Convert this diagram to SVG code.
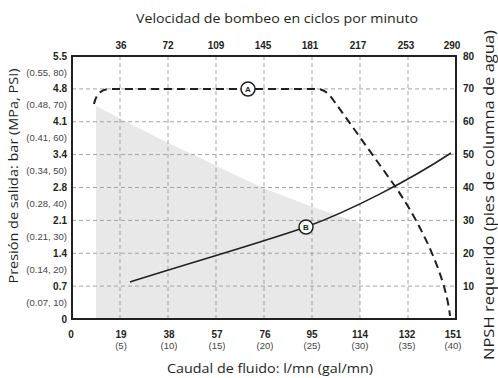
<svg xmlns="http://www.w3.org/2000/svg" width="498" height="378" viewBox="0 0 498 378">
<style>
.title{font-family:"Open Sans","Noto Sans","Liberation Sans",sans-serif;font-size:13.5px;fill:#231f20}
.val{font-family:"Liberation Sans Narrow","Liberation Sans",Arial,sans-serif;font-size:10px;font-weight:bold;fill:#231f20}
.sub{font-family:"Liberation Sans Narrow","Liberation Sans",Arial,sans-serif;font-size:9.5px;fill:#444}
.grid{stroke:#a3a3a3;stroke-width:1;stroke-dasharray:4 3;fill:none}
.lbl{font-family:"Liberation Sans",Arial,sans-serif;font-size:8px;font-weight:bold;fill:#231f20}
</style>
<rect width="498" height="378" fill="#fff"/>
<g id="shade"><polygon points="96,106 160,139 200,158 263,188 310,206 360,223 360,319 96,319" fill="#e8e8e8"/></g>
<g id="grid">
<path class="grid" d="M120,56V319M168,56V319M216,56V319M264,56V319M312,56V319M360,56V319M408,56V319"/>
<path class="grid" d="M72,88.9H456M72,121.75H456M72,154.6H456M72,187.5H456M72,220.4H456M72,253.25H456M72,286.1H456"/>
</g>
<g id="frame"><rect x="72" y="56" width="384" height="263" fill="none" stroke="#231f20" stroke-width="2"/></g>
<g id="connectors">
<path id="curveA" d="M94,104 Q97,89 110,89 L318,89 Q326,89 334,101 L392,182 C415,214 445,270 450,316" fill="none" stroke="#231f20" stroke-width="2" stroke-dasharray="8 5"/>
<path id="curveB" d="M130,282 C180,266 260,243 306,227 C350,211 410,180 451,153" fill="none" stroke="#231f20" stroke-width="1.5"/>
</g>
<g id="nodeA"><circle cx="248" cy="89" r="7" fill="#fff" stroke="#231f20" stroke-width="1.5"/><text class="lbl" x="248" y="92" text-anchor="middle">A</text></g>
<g id="nodeB"><circle cx="306" cy="227" r="7" fill="#fff" stroke="#231f20" stroke-width="1.5"/><text class="lbl" x="306" y="230" text-anchor="middle">B</text></g>
<g id="top-axis" class="val" text-anchor="middle">
<text x="121" y="49">36</text><text x="168" y="49">72</text><text x="216" y="49">109</text><text x="263" y="49">145</text><text x="310" y="49">181</text><text x="358" y="49">217</text><text x="406" y="49">253</text><text x="452" y="49">290</text>
</g>
<g id="left-axis" text-anchor="end">
<text class="val" x="67" y="59.5">5.5</text>
<text class="sub" x="67" y="75.5">(0.55, 80)</text>
<text class="val" x="67" y="92.4">4.8</text>
<text class="sub" x="67" y="108.4">(0.48, 70)</text>
<text class="val" x="67" y="125.2">4.1</text>
<text class="sub" x="67" y="141.2">(0.41, 60)</text>
<text class="val" x="67" y="158.1">3.4</text>
<text class="sub" x="67" y="174.1">(0.34, 50)</text>
<text class="val" x="67" y="191">2.8</text>
<text class="sub" x="67" y="207">(0.28, 40)</text>
<text class="val" x="67" y="223.9">2.1</text>
<text class="sub" x="67" y="239.9">(0.21, 30)</text>
<text class="val" x="67" y="256.7">1.4</text>
<text class="sub" x="67" y="272.7">(0.14, 20)</text>
<text class="val" x="67" y="289.6">0.7</text>
<text class="sub" x="67" y="305.6">(0.07, 10)</text>
<text class="val" x="67" y="322.5">0</text>
</g>
<g id="right-axis" class="val">
<text x="463" y="59.5">80</text><text x="463" y="92.4">70</text><text x="463" y="125.2">60</text><text x="463" y="158.1">50</text><text x="463" y="191">40</text><text x="463" y="223.9">30</text><text x="463" y="256.7">20</text><text x="463" y="289.6">10</text>
</g>
<g id="bottom-axis" text-anchor="middle">
<text class="val" x="71" y="338">0</text>
<text class="val" x="121" y="338">19</text><text class="sub" x="121" y="349">(5)</text>
<text class="val" x="169" y="338">38</text><text class="sub" x="169" y="349">(10)</text>
<text class="val" x="217" y="338">57</text><text class="sub" x="217" y="349">(15)</text>
<text class="val" x="265" y="338">76</text><text class="sub" x="265" y="349">(20)</text>
<text class="val" x="312" y="338">95</text><text class="sub" x="312" y="349">(25)</text>
<text class="val" x="360" y="338">114</text><text class="sub" x="360" y="349">(30)</text>
<text class="val" x="407" y="338">132</text><text class="sub" x="407" y="349">(35)</text>
<text class="val" x="453" y="338">151</text><text class="sub" x="453" y="349">(40)</text>
</g>
<g id="titles">
<text class="title" x="277" y="23" text-anchor="middle" textLength="282" lengthAdjust="spacingAndGlyphs">Velocidad de bombeo en ciclos por minuto</text>
<text class="title" x="270" y="373" text-anchor="middle" textLength="206" lengthAdjust="spacingAndGlyphs">Caudal de fluido: l/mn (gal/mn)</text>
<text class="title" transform="translate(18,176) rotate(-90)" text-anchor="middle" textLength="215" lengthAdjust="spacingAndGlyphs">Presión de salida: bar (MPa, PSI)</text>
<text class="title" transform="translate(494,195) rotate(-90)" text-anchor="middle" textLength="330" lengthAdjust="spacingAndGlyphs" style="font-size:14.5px">NPSH requerido (pies de columna de agua)</text>
</g>
</svg>
